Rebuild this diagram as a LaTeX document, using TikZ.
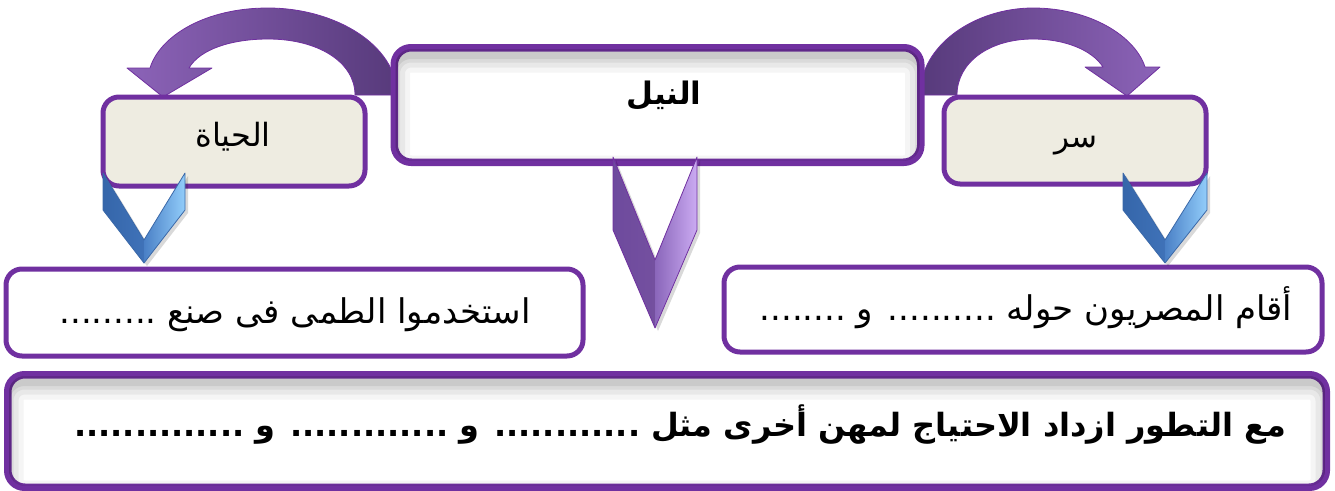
\documentclass[tikz,border=0pt]{standalone}
\usepackage{fontspec}
\TeXXeTstate=1
\newfontfamily\ar[Script=Arabic]{DejaVu Sans}
\definecolor{pborder}{HTML}{7030A0}
\definecolor{beige}{HTML}{EEECE1}
\definecolor{pdark}{HTML}{573A7B}
\definecolor{plight}{HTML}{8C63B8}
\definecolor{vl1}{HTML}{6E4A9E}
\definecolor{vl2}{HTML}{8E6CBE}
\definecolor{vl3}{HTML}{74509F}
\definecolor{vr1}{HTML}{8A66BA}
\definecolor{vr2}{HTML}{9D7CCB}
\definecolor{vr3}{HTML}{CBABF2}
\definecolor{bl1}{HTML}{3566AA}
\definecolor{bl2}{HTML}{5A8ED2}
\definecolor{bl3}{HTML}{3F72B8}
\definecolor{br1}{HTML}{4A80C6}
\definecolor{br2}{HTML}{5E98DA}
\definecolor{br3}{HTML}{92CDFA}
\definecolor{bline}{HTML}{3A68A8}
\tikzset{
  boxbase/.style={rectangle, rounded corners=16pt, line width=5pt, draw=pborder, inner sep=0pt},
  whitebox/.style={boxbase, fill=white},
  beigebox/.style={boxbase, fill=beige},
  txt/.style={inner sep=0pt, font=\ar\fontsize{34}{40}\selectfont},
  boldtxt/.style={inner sep=0pt, font=\ar\bfseries\fontsize{32}{38}\selectfont},
  curvarrow/.style={draw=pborder, line width=0.8pt, line join=round},
}
\newcommand\innershadow[2]{%
  \begin{scope}
    \clip[rounded corners=#2] (#1.south west) rectangle (#1.north east);
    \foreach \w/\o in {34/0.04,24/0.05,14/0.06,7/0.07}
      \draw[line width=\w pt, black, opacity=\o, rounded corners=#2]
        ([yshift=-9pt]#1.south west) rectangle ([yshift=-9pt]#1.north east);
  \end{scope}
  \draw[line width=5pt, pborder, rounded corners=#2] (#1.south west) rectangle (#1.north east);
}
% chevron: cx, top, half width, bottom of vertical edge, tip, inner, left shade, right shade, outline
\newcommand\mychev[9]{%
  \fill[black,opacity=0.15] ({#1-#3+3},{#2+3}) -- ({#1-#3+3},{#4+3}) -- ({#1+3},{#5+3}) -- ({#1+#3+3},{#4+3}) -- ({#1+#3+3},{#2+3}) -- ({#1+3},{#6+3}) -- cycle;
  \shade[#7] ({#1-#3},#2) -- ({#1-#3},#4) -- (#1,#5) -- (#1,#6) -- cycle;
  \shade[#8] ({#1+#3},#2) -- ({#1+#3},#4) -- (#1,#5) -- (#1,#6) -- cycle;
  \draw[#9, line width=0.8pt, line join=round] ({#1-#3},#2) -- ({#1-#3},#4) -- (#1,#5) -- ({#1+#3},#4) -- ({#1+#3},#2) -- (#1,#6) -- cycle;
}
\begin{document}
\begin{tikzpicture}[x=1pt,y=-1pt]
\useasboundingbox (0,0) rectangle (1335,490);

% curved arrows
\shade[left color=plight, right color=pdark, curvarrow]
  (397,95) .. controls (397,45) and (335,8) .. (268,8)
  .. controls (205,8) and (160,36) .. (150,68)
  -- (127,68) -- (163,97) -- (212,68) -- (189,68)
  .. controls (200,49) and (232,39) .. (268,39)
  .. controls (318,39) and (355,62) .. (355,95) -- cycle;
\shade[left color=pdark, right color=plight, curvarrow]
  (920,95) .. controls (920,45) and (975,8) .. (1033,8)
  .. controls (1090,8) and (1135,36) .. (1145,67)
  -- (1160,67) -- (1127,96) -- (1085,67) -- (1103,67)
  .. controls (1092,50) and (1065,39) .. (1033,39)
  .. controls (990,39) and (957,62) .. (957,95) -- cycle;

% boxes
\node[whitebox, minimum width=524pt, minimum height=112pt] (nile) at (657.5,105) {};
\innershadow{nile}{18pt}
\node[beigebox, minimum width=262pt, minimum height=89pt] (hayat) at (234,141.5) {};
\node[beigebox, minimum width=262pt, minimum height=87pt] (sir) at (1075,140.5) {};
\node[whitebox, minimum width=577pt, minimum height=87pt] (lowL) at (294.5,312.5) {};
\node[whitebox, minimum width=598pt, minimum height=85pt] (lowR) at (1023,309.5) {};
\node[whitebox, minimum width=1316pt, minimum height=110pt] (bottom) at (667,431) {};
\innershadow{bottom}{18pt}

% texts
\node[boldtxt, font=\ar\bfseries\fontsize{31}{36}\selectfont] (nileT) at (664,96) {\beginR النيل\endR};
\node[txt, font=\ar\fontsize{32}{38}\selectfont] (hayatT) at (233,137) {\beginR الحياة\endR};
\node[txt, font=\ar\fontsize{31}{36}\selectfont] (sirT) at (1076,146) {\beginR سر\endR};
\node[txt] (lowLT) at (295,315) {\beginR استخدموا الطمى فى صنع .........\endR};
\node[txt] (lowRT) at (1026,308) {\beginR أقام المصريون حوله .......... و ........\endR};
\node[boldtxt] (bottomT) at (680,425) {\beginR مع التطور ازداد الاحتياج لمهن أخرى مثل ............ و ............. و ..............\endR};

% chevrons
\mychev{655}{157}{42}{230}{328}{260}%
  {left color=vl1, middle color=vl2, right color=vl3}%
  {left color=vr1, middle color=vr2, right color=vr3}{pborder}
\mychev{144}{173}{41}{210}{263}{240}%
  {left color=bl1, middle color=bl2, right color=bl3}%
  {left color=br1, middle color=br2, right color=br3}{bline}
\mychev{1165}{173}{42}{210}{263}{240}%
  {left color=bl1, middle color=bl2, right color=bl3}%
  {left color=br1, middle color=br2, right color=br3}{bline}
\end{tikzpicture}
\end{document}
